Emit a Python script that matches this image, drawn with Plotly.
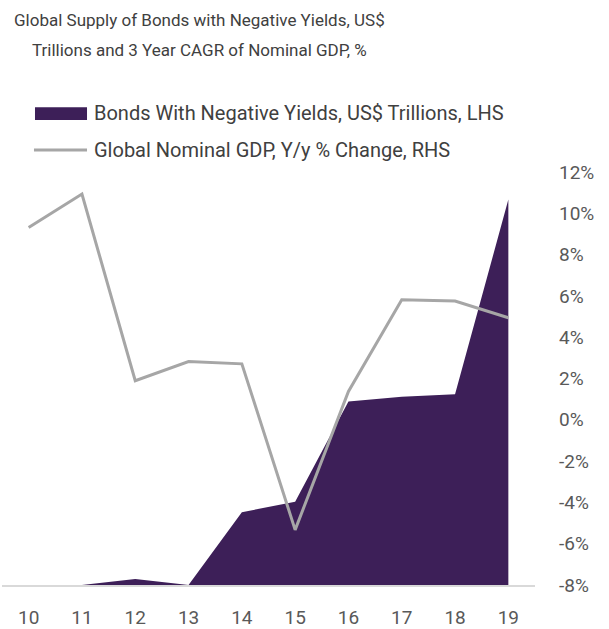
import plotly.graph_objects as go

# Data
years = ["10", "11", "12", "13", "14", "15", "16", "17", "18", "19"]
neg_yield_bonds = [0.0, 0.0, 0.26, 0.0, 3.17, 3.63, 8.0, 8.21, 8.31, 16.8]  # US$ trillions (LHS)
gdp_growth = [9.31, 10.93, 1.89, 2.82, 2.71, -5.33, 1.37, 5.81, 5.75, 4.94]  # % (RHS)

rhs_tickvals = [-8, -6, -4, -2, 0, 2, 4, 6, 8, 10, 12]
rhs_ticktext = ["-8%", "-6%", "-4%", "-2%", "0%", "2%", "4%", "6%", "8%", "10%", "12%"]

PURPLE = "#3d1f58"
GREY = "#a6a6a6"
TEXT = "#404040"
TICK = "#595959"
FONT = "Roboto"

fig = go.Figure()

fig.add_trace(go.Scatter(
    x=years, y=neg_yield_bonds, name="Bonds With Negative Yields, US$ Trillions, LHS",
    mode="lines", line=dict(color=PURPLE, width=0), fill="tozeroy", fillcolor=PURPLE,
    yaxis="y", showlegend=False, hoverinfo="skip",
))
fig.add_trace(go.Scatter(
    x=years, y=gdp_growth, name="Global Nominal GDP, Y/y % Change, RHS",
    mode="lines", line=dict(color=GREY, width=3),
    yaxis="y2", showlegend=False, hoverinfo="skip",
))

# Value callout at the last point of the bond series
fig.add_annotation(
    x=years[-1], y=neg_yield_bonds[-1], xref="x", yref="y",
    text="<i>$16.8 Trillion</i>", showarrow=False,
    xanchor="right", yanchor="middle", xshift=1, yshift=-22,
    font=dict(family=FONT, size=16.5, color="#000000"),
)

# Two-line title
fig.add_annotation(x=0.37, y=1.368, xref="paper", yref="paper",
                   text="Global Supply of Bonds with Negative Yields, US$",
                   showarrow=False, xanchor="center", yanchor="middle",
                   font=dict(family=FONT, size=17, color=TEXT))
fig.add_annotation(x=0.37, y=1.296, xref="paper", yref="paper",
                   text="Trillions and 3 Year CAGR of Nominal GDP, %",
                   showarrow=False, xanchor="center", yanchor="middle",
                   font=dict(family=FONT, size=17, color=TEXT))

# Legend drawn as keys + labels
fig.add_shape(type="rect", xref="paper", yref="paper",
              x0=0.0619, x1=0.1595, y0=1.126, y1=1.157,
              fillcolor=PURPLE, line=dict(width=0))
fig.add_shape(type="line", xref="paper", yref="paper",
              x0=0.0600, x1=0.1595, y0=1.053, y1=1.053,
              line=dict(color=GREY, width=3))
fig.add_annotation(x=0.1690, y=1.143, xref="paper", yref="paper",
                   text="Bonds With Negative Yields, US$ Trillions, LHS",
                   showarrow=False, xanchor="left", yanchor="middle",
                   font=dict(family=FONT, size=20, color=TEXT))
fig.add_annotation(x=0.1690, y=1.053, xref="paper", yref="paper",
                   text="Global Nominal GDP, Y/y % Change, RHS",
                   showarrow=False, xanchor="left", yanchor="middle",
                   font=dict(family=FONT, size=20, color=TEXT))

fig.update_layout(
    width=609, height=629,
    margin=dict(l=2, r=74, t=172, b=44),
    paper_bgcolor="white", plot_bgcolor="white",
    font=dict(family=FONT, size=19, color=TICK),
    xaxis=dict(
        type="category", range=[-0.5, 9.5], automargin=False,
        showgrid=False, zeroline=False,
        showline=True, linecolor="#d9d9d9", linewidth=2,
        ticks="", ticklabelstandoff=14,
        tickfont=dict(family=FONT, size=19, color=TICK),
    ),
    yaxis=dict(range=[0, 18], visible=False, showgrid=False, zeroline=False,
               automargin=False),
    yaxis2=dict(
        overlaying="y", side="right", range=[-8, 12], automargin=False,
        tickmode="array", tickvals=rhs_tickvals, ticktext=rhs_ticktext,
        showgrid=False, zeroline=False, showline=False,
        ticks="", ticklabelstandoff=23,
        tickfont=dict(family=FONT, size=19, color=TICK),
    ),
)

fig.write_html("out.html")
